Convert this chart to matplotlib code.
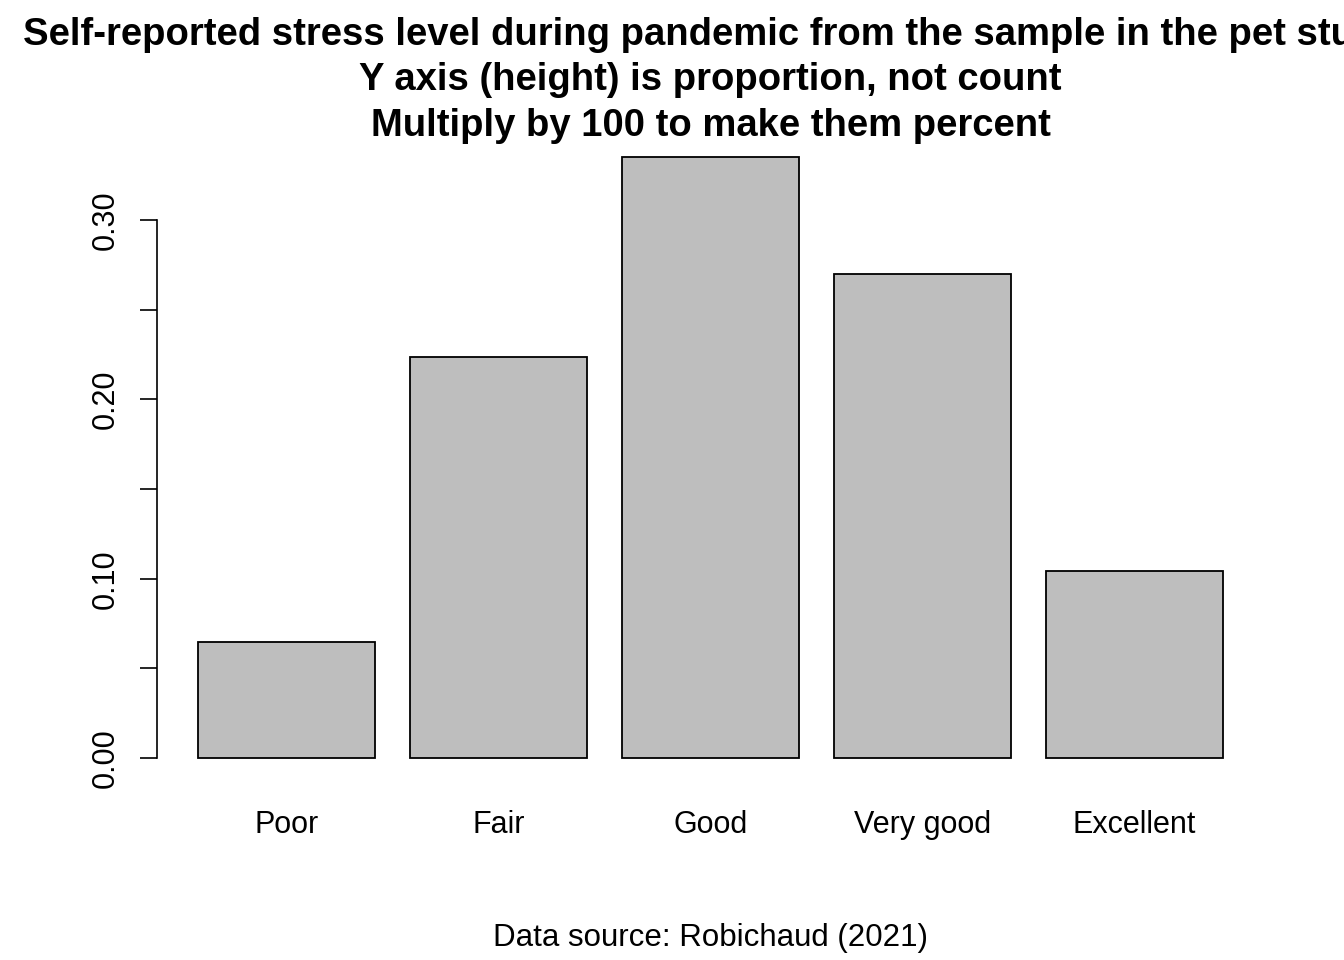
import matplotlib
import matplotlib.pyplot as plt
import numpy as np

matplotlib.use("Agg")
plt.rcParams["font.family"] = ["Liberation Sans", "DejaVu Sans"]

categories = ["Poor", "Fair", "Good", "Very good", "Excellent"]
proportions = [0.0647, 0.2236, 0.3352, 0.2700, 0.1043]

fig = plt.figure(figsize=(13.44, 9.6), dpi=100)
ax = fig.add_axes([0.1168, 0.1854, 0.8237, 0.676])

# R barplot layout: width 1, space 0.2
x = 0.2 + np.arange(len(categories)) * 1.2 + 0.5
ax.bar(x, proportions, width=1.0, color="#BEBEBE", edgecolor="black", linewidth=1.3)

ax.set_xlim(-0.032, 6.232)
ax.set_ylim(-0.0134, 0.3486)
for s in ["top", "right", "bottom"]:
    ax.spines[s].set_visible(False)
ax.spines["left"].set_bounds(0, 0.30)
ax.spines["left"].set_linewidth(1.2)

ax.set_yticks(np.arange(0, 0.31, 0.05))
ax.set_yticklabels(["0.00", "", "0.10", "", "0.20", "", "0.30"],
                   rotation=90, va="center", fontsize=22)
ax.tick_params(axis="y", length=12, width=1.2, pad=14)
ax.set_xticks(x)
ax.set_xticklabels(categories, fontsize=22)
ax.tick_params(axis="x", length=0, pad=20)

cx = (157 + 1264) / 2 / 1344
fig.text(cx, 1 - 35 / 960, "Self-reported stress level during pandemic from the sample in the pet study",
         ha="center", va="center", fontsize=27.5, fontweight="bold")
fig.text(cx, 1 - 80 / 960, "Y axis (height) is proportion, not count",
         ha="center", va="center", fontsize=27.5, fontweight="bold")
fig.text(cx, 1 - 126 / 960, "Multiply by 100 to make them percent",
         ha="center", va="center", fontsize=27.5, fontweight="bold")
fig.text(cx, 1 - 938 / 960, "Data source: Robichaud (2021)",
         ha="center", va="center", fontsize=22.5)

fig.savefig("out.png", dpi=100)
